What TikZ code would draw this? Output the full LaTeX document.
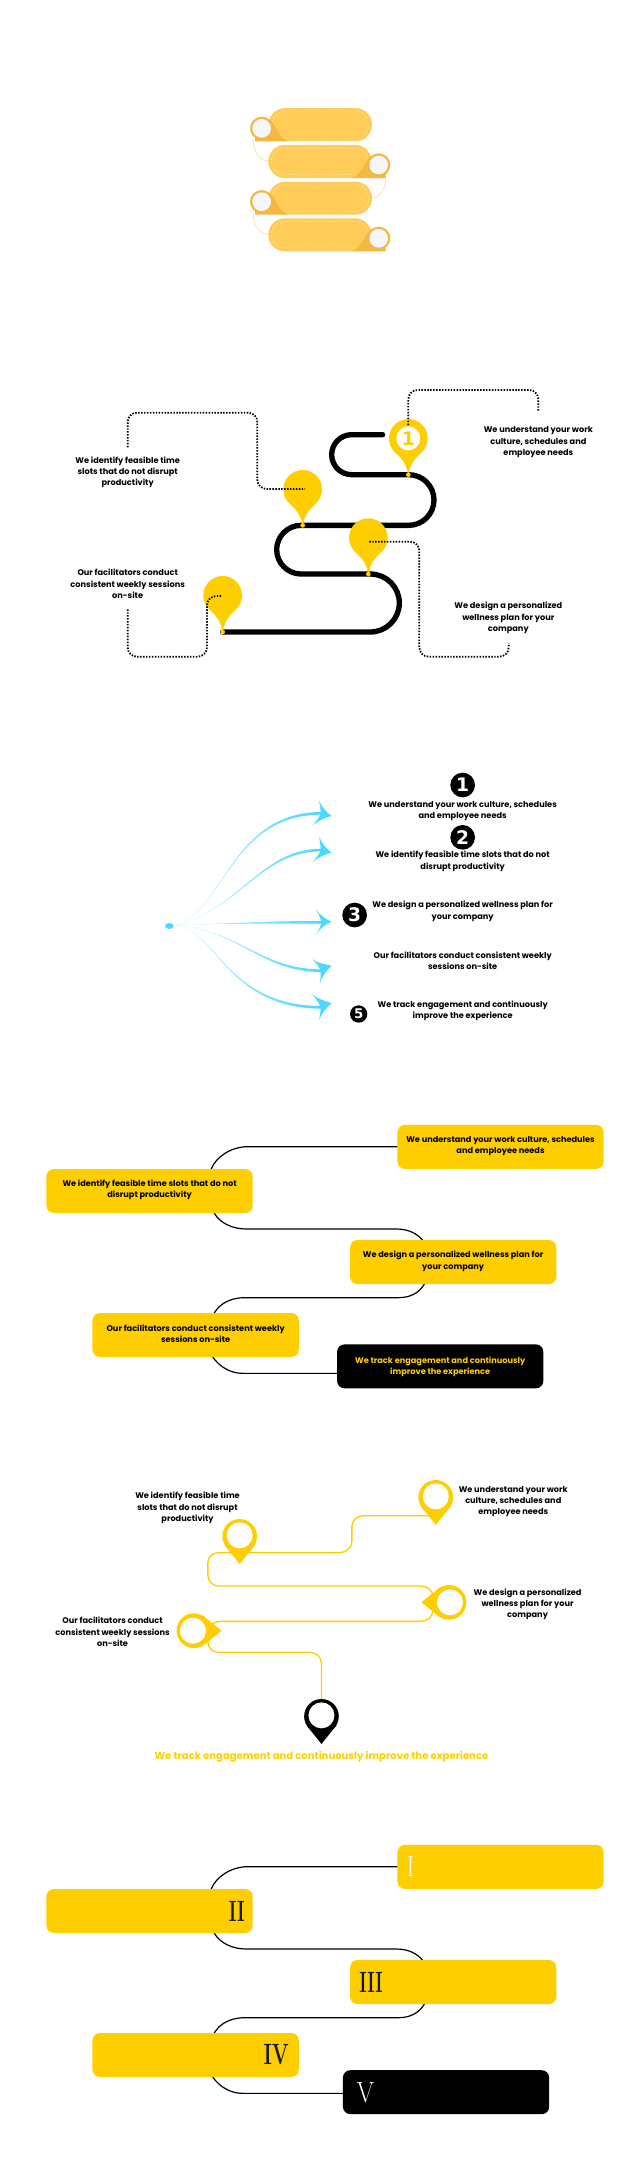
\documentclass[tikz,border=0pt]{standalone}
\usepackage{graphicx}
\usepackage{fontspec}
\newfontfamily\popf{Poppins}
\newfontfamily\numf{DejaVu Sans}
\definecolor{ybox}{HTML}{FFCE00}
\definecolor{pillc}{HTML}{FFCD57}
\definecolor{pilld}{HTML}{F4B73F}
\definecolor{pilll}{HTML}{FFE5A6}
\definecolor{discc}{HTML}{F5F7FC}
\definecolor{cyanm}{HTML}{4DD8FF}
\definecolor{cyanl}{HTML}{C8F3FF}
\tikzset{
  label/.style={align=center,inner sep=0pt,text=black,font=\popf\bfseries\fontsize{6.15}{8.5}\selectfont},
  ylabel/.style={label,text=ybox},
  bigy/.style={align=center,inner sep=0pt,text=ybox,font=\popf\bfseries\fontsize{7.55}{9}\selectfont},
  boxn/.style={rectangle,rounded corners=5.6pt,fill=ybox,minimum width=154.7pt,minimum height=33pt,inner sep=0pt},
  boxk/.style={boxn,fill=black},
  pill/.style={rectangle,rounded corners=12.3pt,fill=pillc,minimum width=77.5pt,minimum height=24.8pt,inner sep=0pt},
  innerdash/.style={draw=pilll,line width=0.45pt,dash pattern=on 1.3pt off 1.3pt,rounded corners=10pt},
  thinc/.style={draw=pilll,line width=0.6pt},
  dots/.style={draw=black,line width=1.35pt,dash pattern=on 1.1pt off 1.1pt},
  conn/.style={draw=black,line width=0.9pt},
  yline/.style={draw=ybox,line width=1pt},
  numd/.style={circle,fill=black,inner sep=0pt,text=white,font=\numf\bfseries},
  rom/.style={inner sep=0pt,font=\fontsize{22}{22}\selectfont},
}
\newcommand{\tealpin}[2]{%
  \begin{scope}[shift={(#1,#2)}]
    \fill[ybox] (0,0) circle[radius=58];
    \fill[ybox] (0,109) .. controls (-6,80) and (-14,65) .. (-42,40) -- (42,40) .. controls (14,65) and (6,80) .. (0,109) -- cycle;
  \end{scope}%
}
\newcommand{\ringpin}[4]{%
  \begin{scope}[shift={(#1,#2)},x=0.25pt,y=-0.25pt,rotate=#3]
    \fill[#4] (0,0) circle[radius=52];
    \fill[#4] (0,83) -- (-44,28) -- (44,28) -- cycle;
    \fill[white] (0,-3) circle[radius=39];
  \end{scope}%
}
\newcommand{\taper}[6]{%
  \shade[left color=cyanl,right color=cyanm] (75,495) .. controls (#1,#2) and (#3,#4-4) .. (#5,#6-4) -- (#5,#6+4) .. controls (#3,#4+4) and (#1,#2) .. (75,495) -- cycle;
}
\begin{document}
\begin{tikzpicture}[x=0.75pt,y=-0.75pt]
\useasboundingbox (0,0) rectangle (640,2160);
\fill[white] (0,0) rectangle (640,2160);

%% ---------- Section 1: pills
\begin{scope}[shift={(220,90)},x=0.25pt,y=-0.25pt]
  \draw[thinc] (100,148) .. controls (100,185) and (115,210) .. (145,213);
  \draw[thinc] (497,260) .. controls (497,295) and (485,318) .. (456,325);
  \draw[thinc] (100,368) .. controls (100,405) and (115,430) .. (145,433);
  \node[pill] (p1) at (301,104) {};
  \node[pill] (p2) at (300,214.5) {};
  \node[pill] (p3) at (301,324.5) {};
  \node[pill] (p4) at (300,434.5) {};
  \draw[innerdash] (156,64) rectangle (446,144);
  \draw[innerdash] (154,175) rectangle (446,254);
  \draw[innerdash] (156,285) rectangle (446,364);
  \draw[innerdash] (154,395) rectangle (446,474);
  \fill[pilld] (105,154) -- (205,154) .. controls (175,142) and (170,110) .. (150,88) -- (105,115) -- cycle;
  \fill[pilld] (105,374) -- (205,374) .. controls (175,362) and (170,330) .. (150,308) -- (105,335) -- cycle;
  \fill[pilld] (497,264) -- (395,264) .. controls (425,252) and (430,222) .. (452,198) -- (497,225) -- cycle;
  \fill[pilld] (497,484) -- (395,484) .. controls (425,472) and (430,442) .. (452,418) -- (497,445) -- cycle;
  \foreach \cx/\cy in {125/115,476/225,125/335,476/445}{
    \fill[pilld] (\cx,\cy) circle[radius=35];
    \fill[discc] (\cx,\cy) circle[radius=28];
  }
\end{scope}

%% ---------- Section 2: winding road
\begin{scope}[shift={(50,370)},x=0.25pt,y=-0.25pt]
  \draw[line width=4pt,line cap=round,black]
    (998,194) -- (905,194) .. controls (872,194) and (845,221) .. (845,254)
    .. controls (845,287) and (872,314) .. (905,314) -- (1076,314)
    .. controls (1118,314) and (1152,348) .. (1152,390)
    .. controls (1152,432) and (1118,466) .. (1076,466) -- (753,466)
    .. controls (713,466) and (680,499) .. (680,539)
    .. controls (680,579) and (713,612) .. (753,612) -- (961,612)
    .. controls (1009,612) and (1048,651) .. (1048,699)
    .. controls (1048,747) and (1009,786) .. (961,786) -- (518,786);
  \tealpin{1075}{205}
  \tealpin{758}{358}
  \tealpin{955}{503}
  \tealpin{518}{676}
  \foreach \tx/\ty in {1075/314,758/466,955/612,518/786}{
    \fill[ybox] (\tx,\ty) circle[radius=7];
  }
  \node[circle,fill=white,minimum size=18pt,inner sep=0pt,text=ybox,font=\numf\bfseries\fontsize{14}{14}\selectfont] (one) at (1075,205) {1};
  \node[label] (t1) at (1465,217) {We understand your work\\culture, schedules and\\employee needs};
  \node[label] (t2) at (233,307) {We identify feasible time\\slots that do not disrupt\\productivity};
  \node[label] (t3) at (1375,744) {We design a personalized\\wellness plan for your\\company};
  \node[label] (t4) at (233,642) {Our facilitators conduct\\consistent weekly sessions\\on-site};
  \coordinate (d1a) at (1075,165);
  \coordinate (d1b) at (1465,125);
  \coordinate (d2a) at (233,232);
  \coordinate (d2b) at (765,357);
  \coordinate (d3a) at (958,515);
  \coordinate (d3b) at (1376,820);
  \coordinate (d4a) at (233,718);
  \coordinate (d4b) at (515,678);
  \draw[dots,rounded corners=7pt] (d1a) -- (1075,60) -- (1465,60) -- (d1b);
  \draw[dots,rounded corners=7pt] (d2a) -- (233,128) -- (622,128) -- (622,357) -- (d2b);
  \draw[dots,rounded corners=7pt] (d3a) -- (1108,515) -- (1108,860) -- (1376,860) -- (d3b);
  \draw[dots,rounded corners=7pt] (d4a) -- (233,860) -- (471,860) -- (471,678) -- (d4b);
\end{scope}

%% ---------- Section 3: fan of arrows
\begin{scope}[shift={(150,760)},x=0.25pt,y=-0.25pt]
  \fill[cyanm] (58,498) ellipse[x radius=13,y radius=9];
  \taper{220}{460}{240}{160}{515}{160}
  \taper{270}{450}{330}{270}{515}{270}
  \taper{270}{490}{330}{487}{515}{487}
  \taper{270}{510}{330}{632}{515}{632}
  \taper{200}{510}{230}{742}{515}{742}
  \fill[cyanm] (507,122) .. controls (515,140) and (530,158) .. (545,168) .. controls (525,172) and (500,185) .. (487,198) .. controls (497,185) and (507,175) .. (512,160) .. controls (512,148) and (510,135) .. (507,122) -- cycle;
  \fill[cyanm] (507,230) .. controls (515,250) and (530,268) .. (545,278) .. controls (525,282) and (500,295) .. (487,307) .. controls (497,295) and (507,285) .. (512,270) .. controls (512,258) and (510,245) .. (507,230) -- cycle;
  \fill[cyanm] (497,448) .. controls (510,465) and (530,480) .. (545,485) .. controls (530,490) and (510,505) .. (497,525) .. controls (505,512) and (512,500) .. (514,487) .. controls (512,473) and (505,460) .. (497,448) -- cycle;
  \fill[cyanm] (487,597) .. controls (500,610) and (525,612) .. (545,617) .. controls (530,630) and (515,650) .. (510,670) .. controls (512,655) and (512,645) .. (512,632) .. controls (507,620) and (497,607) .. (487,597) -- cycle;
  \fill[cyanm] (487,703) .. controls (500,716) and (525,722) .. (545,730) .. controls (530,742) and (515,760) .. (507,780) .. controls (510,768) and (512,755) .. (512,742) .. controls (507,728) and (497,715) .. (487,703) -- cycle;
  \node[numd,minimum size=18.5pt,font=\numf\bfseries\fontsize{14}{14}\selectfont] (n1) at (938,75) {1};
  \node[numd,minimum size=18.5pt,font=\numf\bfseries\fontsize{14}{14}\selectfont] (n2) at (938,232) {2};
  \node[numd,minimum size=18.5pt,font=\numf\bfseries\fontsize{14}{14}\selectfont] (n3) at (614,465) {3};
  \node[numd,minimum size=13pt,font=\numf\bfseries\fontsize{10}{10}\selectfont] (n5) at (626,762) {5};
  \node[label] (s1) at (938,153) {We understand your work culture, schedules\\and employee needs};
  \node[label] (s2) at (938,304) {We identify feasible time slots that do not\\disrupt productivity};
  \node[label] (s3) at (938,454) {We design a personalized wellness plan for\\your company};
  \node[label] (s4) at (938,603) {Our facilitators conduct consistent weekly\\sessions on-site};
  \node[label] (s5) at (938,753) {We track engagement and continuously\\improve the experience};
\end{scope}

%% ---------- Section 4: boxes with text
\begin{scope}[shift={(30,1110)},x=0.282pt,y=-0.25pt]
  \draw[conn] (978,110) -- (580,110) .. controls (535,110) and (495,140) .. (482,177) -- (490,309) .. controls (505,340) and (540,357) .. (575,357) -- (975,357) .. controls (1005,357) and (1030,370) .. (1045,392) -- (1050,520) .. controls (1035,550) and (1010,563) .. (980,563) -- (570,563) .. controls (535,563) and (505,580) .. (490,609) -- (486,741) .. controls (505,772) and (535,790) .. (565,790) -- (818,790);
  \node[boxn] (b1) at (1251.5,110.5) {};
  \node[boxn] (b2) at (318,243) {};
  \node[boxn] (b3) at (1125.5,456) {};
  \node[boxn] (b4) at (440.5,675) {};
  \node[boxk] (b5) at (1091,769) {};
  \node[label] (bt1) at (1251.5,108) {We understand your work culture, schedules\\and employee needs};
  \node[label] (bt2) at (318,240) {We identify feasible time slots that do not\\disrupt productivity};
  \node[label] (bt3) at (1125.5,454) {We design a personalized wellness plan for\\your company};
  \node[label] (bt4) at (440.5,671) {Our facilitators conduct consistent weekly\\sessions on-site};
  \node[ylabel] (bt5) at (1091,770) {We track engagement and continuously\\improve the experience};
\end{scope}

%% ---------- Section 5: location pins
\begin{scope}[shift={(40,1460)},x=0.2679pt,y=-0.25pt]
  \draw[yline] (1090,167) -- (905,167) .. controls (887,167) and (873,182) .. (873,200) -- (873,245) .. controls (873,263) and (857,278) .. (838,278) -- (500,278) .. controls (483,278) and (470,291) .. (470,308) -- (470,345) .. controls (470,363) and (483,378) .. (500,378) -- (1065,378) .. controls (1085,378) and (1100,392) .. (1100,410) -- (1100,450) .. controls (1100,470) and (1085,484) .. (1065,484) -- (510,484) .. controls (488,484) and (470,495) .. (470,510) -- (470,545) .. controls (470,563) and (483,577) .. (500,577) -- (755,577) .. controls (773,577) and (788,592) .. (788,610) -- (788,722);
  \ringpin{1108}{112}{0}{ybox}
  \ringpin{559}{229}{0}{ybox}
  \ringpin{1145}{427}{-90}{ybox}
  \ringpin{431}{512}{90}{ybox}
  \ringpin{788}{769}{0}{black}
  \node[label] (ct1) at (1325,125) {We understand your work\\culture, schedules and\\employee needs};
  \node[label] (ct2) at (413,144) {We identify feasible time\\slots that do not disrupt\\productivity};
  \node[label] (ct3) at (1365,433) {We design a personalized\\wellness plan for your\\company};
  \node[label] (ct4) at (203,516) {Our facilitators conduct\\consistent weekly sessions\\on-site};
  \node[bigy] (ct5) at (788,889) {We track engagement and continuously improve the experience};
\end{scope}

%% ---------- Section 6: boxes with numerals
\begin{scope}[shift={(30,1830)},x=0.282pt,y=-0.25pt]
  \draw[conn] (978,110) -- (580,110) .. controls (535,110) and (495,140) .. (482,177) -- (490,309) .. controls (505,340) and (540,357) .. (575,357) -- (975,357) .. controls (1005,357) and (1030,370) .. (1045,392) -- (1050,520) .. controls (1035,550) and (1010,563) .. (980,563) -- (570,563) .. controls (535,563) and (505,580) .. (490,609) -- (486,741) .. controls (505,772) and (535,790) .. (565,790) -- (833,790);
  \node[boxn] (c1) at (1251.5,110.5) {};
  \node[boxn] (c2) at (318,243) {};
  \node[boxn] (c3) at (1125.5,456) {};
  \node[boxn] (c4) at (440.5,675) {};
  \node[boxk] (c5) at (1106.5,786.5) {};
  \node[rom,text=white] (r1) at (1012,110) {\scalebox{0.72}[1]{I}};
  \node[rom,text=black!90] (r2) at (550,243) {\bfseries\scalebox{0.62}[1]{II}};
  \node[rom,text=black!90] (r3) at (907,456) {\bfseries\scalebox{0.6}[1]{III}};
  \node[rom,text=black!90] (r4) at (655,675) {\bfseries\scalebox{0.68}[1]{IV}};
  \node[rom,text=white] (r5) at (892,787) {\scalebox{0.85}[1]{V}};
\end{scope}
\end{tikzpicture}
\end{document}
